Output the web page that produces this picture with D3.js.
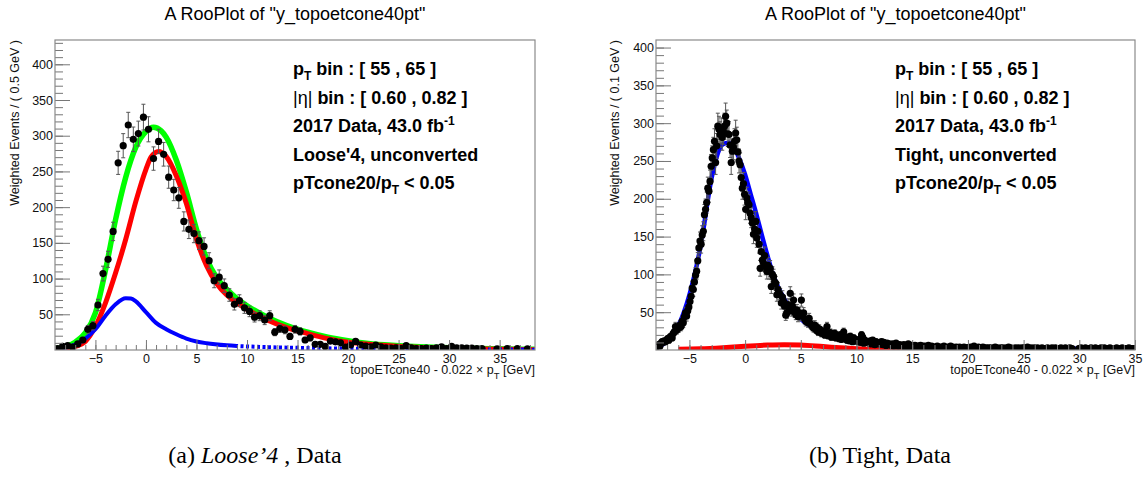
<!DOCTYPE html>
<html>
<head>
<meta charset="utf-8">
<script src="https://cdn.jsdelivr.net/npm/d3@7"></script>
<style>
  body { margin: 0; background: #fff; }
  svg text { font-family: "Liberation Sans", Arial, Helvetica, sans-serif; }
</style>
</head>
<body>
<svg id="fig" width="1146" height="479"></svg>
<script>

// (a) Loose'4 : 0.5 GeV bins, first bin centre at -8.75
const leftBinStart = -8.75;
const leftBinStep = 0.5;
const leftCounts = [
  2, 5, 6, 4, 8.5, 14, 29, 34, 63, 107,
  127, 166, 262, 286, 315, 295, 303, 326, 309, 268,
  292, 274, 242, 224, 213, 180, 169, 163, 153, 145,
  125, 97, 102, 90, 77, 64, 69, 59, 54, 46,
  48, 42, 48, 25, 30, 28, 19, 29, 26, 14,
  17, 8, 8, 5, 12.5, 11.5, 10, 4, 7, 12,
  7, 5.5, 4.5, 7, 4.5, 3, 2.5, 3, 2, 6,
  3, 2, 2, 2.5, 2, 3, 4.5, 2, 5, 3,
  3, 2.5, 2.5, 2, 2, null, null, 1.5, null, 2,
  null, 2, null, 1.5, null
];
// fit curves (total / signal / background)
const leftTotalX = [-9, -8, -7, -6, -5, -4, -3, -2, -1, 0, 0.75, 1.5, 2, 3, 4, 5, 6, 7, 8, 9, 10, 12, 14, 16, 18, 20, 22, 25, 30, 38.5];
const leftTotalY = [2, 4.5, 11, 24, 52, 112, 183, 242, 284, 306, 312, 307, 298, 266, 221, 169, 128, 101, 85, 72, 62, 46, 34, 25, 18, 13, 9, 6, 3, 1];
const leftSigX = [-9, -8, -7, -6, -5, -4, -3, -2, -1, 0, 0.5, 1.25, 2, 3, 4, 5, 6, 7, 8, 9, 10, 11, 12, 14, 16, 18, 20, 22, 25, 30, 38.5];
const leftSigY = [1, 2, 5, 12, 33, 66, 108, 155, 208, 253, 270, 278, 271, 244, 205, 155, 118, 93, 77, 66, 57, 49, 42, 31, 23, 16, 11, 8, 5, 2.5, 0.5];
const leftBkgX = [-9, -8, -7, -6, -5, -4, -3, -2, -1.5, -1, 0, 1, 2, 3, 4, 5, 6, 8, 10, 12, 15, 20, 25, 30, 38.5];
const leftBkgY = [1, 3, 7.5, 16, 29, 48, 64, 72.5, 72, 68, 53, 38, 29, 22, 16, 12, 9.5, 6.5, 5, 4, 3, 2, 1.5, 1, 0.5];

// (b) Tight : 0.1 GeV bins, first bin centre at -7.95
const rightBinStart = -7.95;
const rightBinStep = 0.1;
const rightCounts = [
  4, 6, 7, 5, 9, 11, 10, 12, 11, 13,
  15, 13, 17, 18, 16, 22, 24, 31, 26, 29,
  29, 33, 31, 38, 36, 44, 49, 45, 52, 57,
  64, 71, 82, 80, 90, 99, 104, 118, 135, 144,
  140, 152, 157, 179, 186, 195, 214, 210, 223, 243,
  254, 265, 276, 248, 270, 296, 292, 285, 290, 281,
  289, 296, 309, 300, 286, 285, 271, 248, 263, 268,
  276, 287, 278, 262, 250, 245, 228, 214, 220, 206,
  186, 201, 195, 192, 181, 175, 168, 153, 160, 170,
  148, 157, 140, 108, 130, 119, 115, 125, 110, 104,
  112, 104, 108, 84, 100, 97, 90, 88, 73, 80,
  75, 73, 62, 70, 64, 58, 46, 49, 60, 55,
  75, 52, 58, 66, 50, 47, 53, 44, 49, 46,
  66, 45, 49, 41, 38, 40, 36, 42, 35, 33,
  31, 29, 33, 27, 30, 24, 28, 26, 22, 25,
  24, 20, 22, 31, 19, 21, 23, 17, 20, 18,
  22, 16, 19, 17, 15, 20, 14, 18, 24, 16,
  15, 13, 17, 12, 18, 14, 11, 16, 13, 12,
  12, 11, 14, 10, 20, 17, 9, 13, 11, 10,
  10, 9, 12, 8, 13, 10, 7, 11, 9, 8,
  9, 8, 11, 7, 10, 8, 6, 9, 7, 8,
  7, 6, 8, 5, 7, 9, 6, 5, 7, 6,
  6, 5, 7, 4, 6, 5, 8, 4, 5, 6,
  5, 4, 6, 4, 5, 3, 5, 6, 4, 5,
  4, 5, 3, 4, 6, 4, 3, 5, 4, 3,
  4, 3, 5, 3, 4, 2, 4, 3, 5, 3,
  3, 4, 2, 3, 5, 3, 4, 2, 3, 4,
  3, 2, 4, 3, 2, 3, 4, 2, 3, 3,
  3, 2, 4, 2, 3, 5, 2, 3, 2, 4,
  2, 3, 2, 4, 3, 2, 3, 2, 3, 2,
  3, 2, 2, 3, 4, 2, 3, 2, 2, 3,
  2, 3, 2, 2, 3, 2, 4, 2, 3, 2,
  2, 2, 3, 2, 2, 3, 2, 2, 3, 2,
  3, 2, 2, 4, 2, 2, 3, 2, 2, 3,
  2, 2, 3, 2, 2, 2, 3, 2, 2, 2,
  2, 3, 2, 2, 2, 3, 2, 2, 3, 2,
  2, 2, 2, 3, 2, 2, 2, 3, 2, 2,
  2, 3, 2, 2, null, null, null, null, null, 2,
  2, 3, 2, 2, 2, 3, 2, 2, 2, 2,
  3, 2, 2, 2, 3, 2, 2, 2, 2, 3,
  2, 2, 3, 2, 2, 2, 2, 3, 2, 2,
  2, 2, 2, 3, 2, 2, 2, 2, 3, 2,
  2, 2, 2, 2, 3, 2, 2, 2, 2, 2
];
const rightSigX = [-8, -7, -6, -5, -4, -3, -2.5, -2, -1.5, -1, -0.5, 0, 0.5, 1, 1.5, 2, 2.5, 3, 3.5, 4, 4.5, 5, 6, 7, 8, 9, 10, 11, 12, 13, 14, 16, 18, 20, 25, 30, 35];
const rightSigY = [2, 12, 32, 73, 137, 228, 258, 272, 274, 268, 252, 232, 206, 180, 152, 125, 100, 82, 68, 57, 48, 41, 30, 23, 18, 14.5, 12, 10, 8.5, 7, 6, 4.5, 3.5, 3, 2, 1.5, 1];
const rightBkgX = [-6, -4, -2, 0, 2, 3.5, 5, 7, 9, 11, 13, 15];
const rightBkgY = [1, 1.5, 3, 5, 6.5, 7, 6.5, 4.5, 2.5, 1, 0.3, 0];

// axis ticks
const leftXTicks = [-5, 0, 5, 10, 15, 20, 25, 30, 35];
const rightXTicks = [-5, 0, 5, 10, 15, 20, 25, 30, 35];
const yTicks = [50, 100, 150, 200, 250, 300, 350, 400];

// text
const plotTitle = 'A RooPlot of "y_topoetcone40pt"';
const leftLegend = [
  [["p"], ["T", "sub"], [" bin : [ 55 , 65 ]"]],
  [["|η|", "thin"], [" bin : [ 0.60 , 0.82 ]"]],
  [["2017 Data, 43.0 fb"], ["-1", "sup"]],
  [["Loose'4, unconverted"]],
  [["pTcone20/p"], ["T", "sub"], [" < 0.05"]]
];
const rightLegend = [
  [["p"], ["T", "sub"], [" bin : [ 55 , 65 ]"]],
  [["|η|", "thin"], [" bin : [ 0.60 , 0.82 ]"]],
  [["2017 Data, 43.0 fb"], ["-1", "sup"]],
  [["Tight, unconverted"]],
  [["pTcone20/p"], ["T", "sub"], [" < 0.05"]]
];

const svg = d3.select("#fig");

function addRich(sel, parts, base, small) {
  let shift = 0;
  parts.forEach(function (p) {
    const ts = sel.append("tspan").text(p[0]);
    let want = 0;
    if (p[1] === "sub") { want = 5; ts.style("font-size", small + "px"); }
    if (p[1] === "sup") { want = -7; ts.style("font-size", small + "px"); }
    if (p[1] === "thin") { ts.style("font-weight", "normal"); }
    if (want !== shift) { ts.attr("dy", want - shift); shift = want; }
  });
}

function drawPanel(cfg) {
  const x = d3.scaleLinear().domain(cfg.xDomain).range([cfg.left, cfg.right]);
  const y = d3.scaleLinear().domain(cfg.yDomain).range([cfg.bottom, cfg.top]);
  const g = svg.append("g");

  const clipId = "clip-" + cfg.id;
  svg.append("clipPath").attr("id", clipId).append("rect")
    .attr("x", cfg.left).attr("y", cfg.top)
    .attr("width", cfg.right - cfg.left).attr("height", cfg.bottom - cfg.top);

  // tail region (where a curve may be drawn dashed, like ROOT's sparse sampling)
  const tailId = "tail-" + cfg.id, coreId = "core-" + cfg.id;
  const cut = cfg.dashFrom !== undefined ? x(cfg.dashFrom) : cfg.right;
  svg.append("clipPath").attr("id", coreId).append("rect")
    .attr("x", cfg.left).attr("y", cfg.top)
    .attr("width", cut - cfg.left).attr("height", cfg.bottom - cfg.top);
  svg.append("clipPath").attr("id", tailId).append("rect")
    .attr("x", cut).attr("y", cfg.top)
    .attr("width", cfg.right - cut).attr("height", cfg.bottom - cfg.top);

  // title
  g.append("text")
    .attr("x", (cfg.left + cfg.right) / 2).attr("y", 20)
    .attr("text-anchor", "middle")
    .style("font-size", "18px").attr("fill", "#000")
    .text(plotTitle);

  // fit curves
  const line = d3.line()
    .x(function (d) { return x(d[0]); })
    .y(function (d) { return y(d[1]); })
    .curve(d3.curveMonotoneX);
  const curves = g.append("g").attr("clip-path", "url(#" + clipId + ")");
  cfg.curves.forEach(function (c) {
    const pts = d3.zip(c.xs, c.ys);
    if (c.dashTail) {
      curves.append("path").datum(pts).attr("d", line)
        .attr("fill", "none").attr("stroke", c.color).attr("stroke-width", c.width)
        .attr("clip-path", "url(#" + coreId + ")");
      curves.append("path").datum(pts).attr("d", line)
        .attr("fill", "none").attr("stroke", c.color).attr("stroke-width", c.width)
        .attr("stroke-dasharray", "3,2.5")
        .attr("clip-path", "url(#" + tailId + ")");
    } else {
      curves.append("path").datum(pts).attr("d", line)
        .attr("fill", "none").attr("stroke", c.color).attr("stroke-width", c.width)
        .attr("stroke-linejoin", "round");
    }
  });

  // data points with error bars
  const pts = cfg.counts
    .map(function (v, i) { return { x: cfg.start + i * cfg.step, v: v }; })
    .filter(function (d) { return d.v !== null; });
  const pg = g.append("g").attr("clip-path", "url(#" + clipId + ")");
  pts.forEach(function (d) {
    const e = Math.sqrt(d.v);
    const px = x(d.x);
    const yh = y(d.v + e), yl = y(Math.max(d.v - e, 0));
    pg.append("line").attr("x1", px).attr("x2", px).attr("y1", yh).attr("y2", yl)
      .attr("stroke", "#555").attr("stroke-width", 1);
    pg.append("line").attr("x1", px - 2).attr("x2", px + 2).attr("y1", yh).attr("y2", yh)
      .attr("stroke", "#555").attr("stroke-width", 1);
    pg.append("line").attr("x1", px - 2).attr("x2", px + 2).attr("y1", yl).attr("y2", yl)
      .attr("stroke", "#555").attr("stroke-width", 1);
  });
  pg.selectAll("circle.pt")
    .data(pts)
    .enter().append("circle")
    .attr("class", "pt")
    .attr("cx", function (d) { return x(d.x); })
    .attr("cy", function (d) { return y(d.v); })
    .attr("r", 3.6)
    .attr("fill", "#000");

  // x axis: major + minor ticks pointing inward
  const xMinor = d3.range(Math.ceil(cfg.xDomain[0]), Math.floor(cfg.xDomain[1]) + 1, 1);
  g.append("g")
    .attr("transform", "translate(0," + cfg.bottom + ")")
    .call(d3.axisBottom(x).tickValues(xMinor).tickSize(-5).tickFormat(""))
    .call(function (a) { a.select(".domain").remove(); a.selectAll("line").attr("stroke", "#777"); });
  const xa = g.append("g")
    .attr("transform", "translate(0," + cfg.bottom + ")")
    .call(d3.axisBottom(x).tickValues(cfg.xTicks).tickSize(-10).tickPadding(4).tickFormat(d3.format("d")));
  xa.select(".domain").remove();
  xa.selectAll("line").attr("stroke", "#777");
  xa.selectAll("text").style("font-size", "12.5px").attr("fill", "#111")
    .style("font-family", '"Liberation Sans", Arial, sans-serif');

  // y axis
  const yMinor = d3.range(10, cfg.yDomain[1], 10);
  g.append("g")
    .attr("transform", "translate(" + cfg.left + ",0)")
    .call(d3.axisLeft(y).tickValues(yMinor).tickSize(-8).tickFormat(""))
    .call(function (a) { a.select(".domain").remove(); a.selectAll("line").attr("stroke", "#777"); });
  const ya = g.append("g")
    .attr("transform", "translate(" + cfg.left + ",0)")
    .call(d3.axisLeft(y).tickValues(yTicks).tickSize(-15).tickPadding(2));
  ya.select(".domain").remove();
  ya.selectAll("line").attr("stroke", "#777");
  ya.selectAll("text").style("font-size", "12.5px").attr("fill", "#111")
    .style("font-family", '"Liberation Sans", Arial, sans-serif');

  // frame
  g.append("rect")
    .attr("x", cfg.left).attr("y", cfg.top)
    .attr("width", cfg.right - cfg.left).attr("height", cfg.bottom - cfg.top)
    .attr("fill", "none").attr("stroke", "#8a8a8a").attr("stroke-width", 1.2);

  // axis titles
  const xl = g.append("text")
    .attr("x", cfg.right).attr("y", 374)
    .attr("text-anchor", "end")
    .style("font-size", "12.5px").attr("fill", "#111");
  addRich(xl, [["topoETcone40 - 0.022 × p"], ["T", "sub"], [" [GeV]"]], 12.5, 9.5);

  g.append("text")
    .attr("transform", "translate(" + cfg.yLabelX + "," + cfg.top + ") rotate(-90)")
    .attr("text-anchor", "end")
    .style("font-size", "12.5px").attr("fill", "#111")
    .text(cfg.yLabel);

  // info text
  cfg.legend.forEach(function (parts, i) {
    const t = g.append("text")
      .attr("x", cfg.legendX).attr("y", 75 + i * 28.5)
      .style("font-size", "18px").style("font-weight", "bold").attr("fill", "#000");
    addRich(t, parts, 18, 12);
  });

  // caption
  const cap = g.append("text")
    .attr("x", cfg.captionX).attr("y", 463)
    .attr("text-anchor", "middle")
    .style("font-family", '"Liberation Serif", "Times New Roman", serif')
    .style("font-size", "24px").attr("fill", "#000");
  cfg.caption.forEach(function (p) {
    const ts = cap.append("tspan").text(p[0]).style("font-family", '"Liberation Serif", "Times New Roman", serif');
    if (p[1] === "it") ts.style("font-style", "italic");
  });
}

drawPanel({
  id: "a", left: 55, right: 535, top: 40, bottom: 350,
  xDomain: [-9, 38.5], yDomain: [0, 434],
  xTicks: leftXTicks, dashFrom: 9,
  start: leftBinStart, step: leftBinStep, counts: leftCounts,
  curves: [
    { xs: leftTotalX, ys: leftTotalY, color: "#00ff00", width: 5.5 },
    { xs: leftSigX, ys: leftSigY, color: "#ff0000", width: 5 },
    { xs: leftBkgX, ys: leftBkgY, color: "#0000ff", width: 4, dashTail: true }
  ],
  yLabel: "Weighted Events / ( 0.5 GeV )", yLabelX: 19,
  legend: leftLegend, legendX: 293,
  caption: [["(a) "], ["Loose’4", "it"], [" , Data"]], captionX: 255
});

drawPanel({
  id: "b", left: 656, right: 1135, top: 40, bottom: 350,
  xDomain: [-8, 35], yDomain: [0, 410],
  xTicks: rightXTicks,
  start: rightBinStart, step: rightBinStep, counts: rightCounts,
  curves: [
    { xs: rightBkgX, ys: rightBkgY, color: "#ff0000", width: 5 },
    { xs: rightSigX, ys: rightSigY, color: "#0000ff", width: 4.5 }
  ],
  yLabel: "Weighted Events / ( 0.1 GeV )", yLabelX: 619,
  legend: rightLegend, legendX: 895,
  caption: [["(b) Tight, Data"]], captionX: 880
});
</script>
</body>
</html>
